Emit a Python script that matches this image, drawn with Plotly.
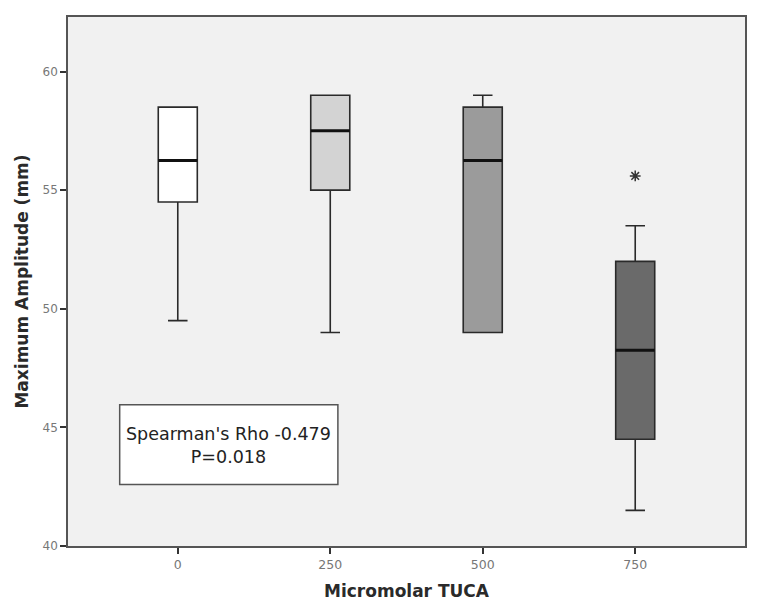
import plotly.graph_objects as go

categories = ["0", "250", "500", "750"]
q1 = [54.5, 55.0, 49.0, 44.5]
median = [56.25, 57.5, 56.25, 48.25]
q3 = [58.5, 59.0, 58.5, 52.0]
lowerfence = [49.5, 49.0, 49.0, 41.5]
upperfence = [58.5, 59.0, 59.0, 53.5]
fills = ["#ffffff", "#d3d3d3", "#9b9b9b", "#6a6a6a"]
outlier_idx = [3]
outlier_val = [55.6]

BOX_W = 0.256
fig = go.Figure()
for i, c in enumerate(categories):
    fig.add_trace(go.Box(
        x=[i], q1=[q1[i]], median=[median[i]], q3=[q3[i]],
        lowerfence=[lowerfence[i]], upperfence=[upperfence[i]],
        fillcolor=fills[i], line=dict(color="#2a2a2a", width=1.6),
        width=BOX_W, whiskerwidth=0.5, boxpoints=False, showlegend=False,
        hoverinfo="skip",
    ))
    fig.add_trace(go.Scatter(
        x=[i - BOX_W / 2, i + BOX_W / 2], y=[median[i], median[i]], mode="lines",
        line=dict(color="#111111", width=3), showlegend=False, hoverinfo="skip",
    ))

fig.add_trace(go.Scatter(
    x=outlier_idx, y=outlier_val, mode="markers",
    marker=dict(symbol="asterisk-open", size=9, color="#333333", line=dict(width=1.5, color="#333333")),
    showlegend=False,
))

fig.add_shape(type="rect", xref="x", yref="y", x0=-0.381, x1=1.05, y0=42.59, y1=45.95,
              fillcolor="white", line=dict(color="#555555", width=1.5), layer="above")
fig.add_annotation(x=0.335, y=44.22, xref="x", yref="y",
                   text="Spearman's Rho -0.479<br>P=0.018", showarrow=False,
                   font=dict(family="DejaVu Sans", size=17.5, color="#222222"), align="center")

fig.update_layout(
    width=762, height=611,
    margin=dict(l=60, r=25, t=7, b=73),
    paper_bgcolor="white", plot_bgcolor="#f1f1f1",
    font=dict(family="DejaVu Sans", color="#555555"),
)
fig.update_xaxes(
    range=[-0.72, 3.72], tickvals=list(range(len(categories))), ticktext=categories,
    showgrid=False, zeroline=False,
    showline=True, mirror=True, linecolor="#555555", linewidth=1.5,
    ticks="outside", ticklen=6, tickcolor="#333333", tickwidth=1.5,
    tickfont=dict(size=12.5, color="#777777"),
    title=dict(text="<b>Micromolar TUCA</b>", font=dict(size=17, color="#2a2a2a"), standoff=14),
)
fig.update_yaxes(
    range=[40, 62.3], tickvals=[40, 45, 50, 55, 60], showgrid=False, zeroline=False,
    showline=True, mirror=True, linecolor="#555555", linewidth=1.5,
    ticks="outside", ticklen=6, tickcolor="#333333", tickwidth=1.5,
    tickfont=dict(size=12, color="#777777"),
    title=dict(text="<b>Maximum Amplitude (mm)</b>", font=dict(size=17, color="#2a2a2a"), standoff=10),
)

fig.write_html("out.html")
